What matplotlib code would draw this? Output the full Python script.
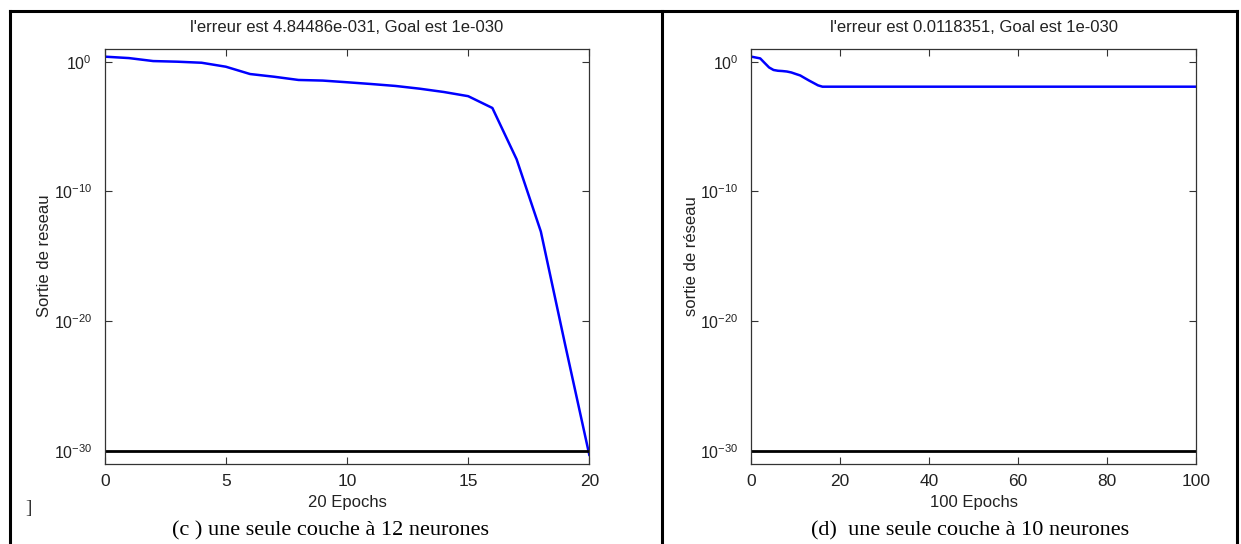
import matplotlib
matplotlib.use("Agg")
import matplotlib.pyplot as plt
from matplotlib.lines import Line2D

# courbe (c) : 20 epochs, une couche a 12 neurones
epochs_c = list(range(21))
perf_c = [2.45, 1.9, 1.12, 1.0, 0.83, 0.41, 0.112, 0.069, 0.039, 0.035, 0.026,
          0.019, 0.0135, 0.0083, 0.0046, 0.0022, 2.7e-4, 3.0e-8, 8e-14, 1.6e-22,
          4.84486e-31]

# courbe (d) : 100 epochs, une couche a 10 neurones
epochs_d = list(range(17)) + [100]
perf_d = [2.45, 2.1, 1.8, 0.8, 0.36, 0.23, 0.20, 0.19, 0.175, 0.148, 0.113,
          0.087, 0.055, 0.035, 0.023, 0.015, 0.0118351, 0.0118351]

goal = 1e-30
xticks_c = [0, 5, 10, 15, 20]
xticks_d = [0, 20, 40, 60, 80, 100]
yticks = [1e-30, 1e-20, 1e-10, 1e0]
ytick_labels = [r"$10^{-30}$", r"$10^{-20}$", r"$10^{-10}$", r"$10^{0}$"]

titles = ["l'erreur est 4.84486e-031, Goal est 1e-030",
          "l'erreur est 0.0118351, Goal est 1e-030"]
ylabels = ["Sortie de reseau", "sortie de réseau"]
xlabels = ["20 Epochs", "100 Epochs"]
captions = ["(c ) une seule couche à 12 neurones",
            "(d)  une seule couche à 10 neurones"]

plt.rcParams["font.family"] = ["Liberation Sans Narrow", "Liberation Sans", "DejaVu Sans"]
plt.rcParams["mathtext.fontset"] = "custom"
plt.rcParams["mathtext.rm"] = "Liberation Sans"
plt.rcParams["mathtext.default"] = "regular"

W, H = 1241, 544
fig = plt.figure(figsize=(W / 100, H / 100), dpi=100)


def fx(px):
    return px / W


def fy(py):
    return 1 - py / H


panels = [
    (104.7, 589.3, epochs_c, perf_c, xticks_c, (0, 20)),
    (751.3, 1196.0, epochs_d, perf_d, xticks_d, (0, 100)),
]

for i, (x0, x1, ep, perf, xt, xl) in enumerate(panels):
    ax = fig.add_axes([fx(x0), fy(464), fx(x1 - x0), (464 - 49.3) / H])
    ax.set_yscale("log")
    ax.plot(ep, perf, color="#0000ff", lw=1.8)
    ax.plot(xl, [goal, goal], color="black", lw=2.0)
    ax.set_xlim(*xl)
    ax.set_ylim(10 ** -31.02, 10 ** 0.956)
    ax.set_xticks(xt)
    ax.set_yticks(yticks)
    ax.set_yticklabels(ytick_labels)
    ax.minorticks_off()
    ax.tick_params(direction="in", length=5, width=0.8, color="#333333",
                   top=True, right=True, labelcolor="#222222")
    ax.tick_params(axis="y", pad=9, labelsize=11.5)
    ax.tick_params(axis="x", pad=7, labelsize=12.5)
    for s in ax.spines.values():
        s.set_color("#333333")
        s.set_linewidth(0.9)
    cx = (x0 + x1) / 2
    fig.text(fx(cx), fy(27), titles[i], ha="center", va="center",
             fontsize=12, color="#222222")
    fig.text(fx(cx), fy(503), xlabels[i], ha="center", va="center",
             fontsize=12, color="#222222")
    fig.text(fx(x0 - 60), fy(256), ylabels[i], ha="center", va="center",
             rotation=90, fontsize=12, color="#222222")

fig.text(fx(330), fy(531), captions[0], ha="center", va="center",
         fontsize=16, family=["Liberation Serif", "DejaVu Serif"])
fig.text(fx(970), fy(531), captions[1], ha="center", va="center",
         fontsize=16, family=["Liberation Serif", "DejaVu Serif"])
fig.text(fx(29), fy(508), "]", ha="center", va="center",
         fontsize=14, color="#333333", family=["Liberation Serif", "DejaVu Serif"])

# cadre du tableau
for xs, ys in [([9.7, 1237], [11, 11]), ([9.7, 9.7], [11, 544]),
               ([661.7, 661.7], [11, 544]), ([1237, 1237], [11, 544])]:
    fig.add_artist(Line2D([fx(v) for v in xs], [fy(v) for v in ys],
                          color="black", lw=2.2))

fig.savefig("out.png", dpi=100)
